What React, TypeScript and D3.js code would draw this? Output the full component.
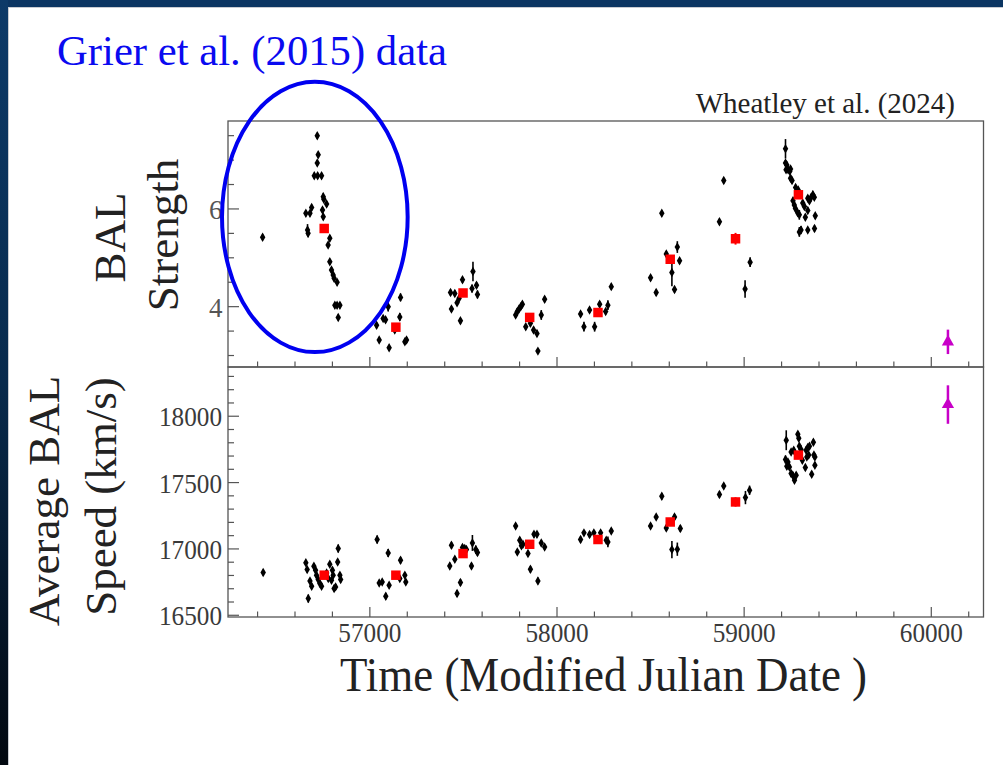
import React from "react";
import * as d3 from "d3";

// ---------- data ----------
const strengthMJD = [
  56427, 56719, 56724, 56719, 56703, 56721, 56742, 56751, 56754, 56769, 56658, 56680, 56689, 56747, 56751, 56667, 56670,
  56786, 56777, 56786, 56795, 56804, 56809, 56825, 56813, 56825, 56840, 56831,
  57036, 57071, 57084, 57098, 57050, 57103, 57133, 57160, 57164, 57187, 57196,
  57431, 57454, 57436, 57466, 57477, 57484, 57495, 57546, 57551, 57570, 57575,
  57779, 57788, 57797, 57806, 57815, 57833, 57858, 57875, 57893, 57898, 57916, 57934,
  58126, 58144, 58174, 58201, 58228, 58260, 58272, 58290,
  58500, 58530, 58560, 58584, 58614, 58628, 58643, 58655,
  58868, 58891, 59005, 59032,
  59221, 59221, 59228, 59224, 59235, 59248, 59244, 59248, 59256, 59275, 59289, 59261, 59268, 59274, 59286, 59295,
  59313, 59322, 59327, 59340, 59349, 59358, 59367, 59375, 59340, 59380, 59295, 59304, 59340, 59376,
];
const strengthValue = [
  5.42, 7.5, 7.11, 6.94, 6.68, 6.68, 6.68, 6.25, 6.2, 6.1, 5.91, 5.91, 6.03, 5.98, 5.84, 5.57, 5.5,
  5.4, 5.26, 4.92, 4.75, 4.65, 4.58, 4.5, 4.03, 4.03, 4.03, 3.78,
  3.62, 3.76, 3.73, 4.0, 3.32, 3.16, 3.52, 3.79, 4.19, 3.28, 3.32,
  4.29, 4.27, 3.95, 4.08, 4.17, 3.71, 4.55, 4.37, 4.72, 4.44, 4.25,
  3.83, 3.9, 3.95, 4.0, 4.05, 3.59, 3.66, 3.52, 3.45, 3.09, 3.83, 4.15,
  3.85, 3.59, 3.93, 3.59, 4.05, 3.9, 4.03, 4.41,
  4.59, 4.29, 5.91, 5.08, 4.7, 4.35, 5.22, 4.94,
  5.74, 6.58, 4.36, 4.91,
  7.23, 6.94, 6.9, 6.8, 6.8, 6.82, 6.77, 6.63, 6.58, 6.44, 6.39, 6.17, 6.08, 6.01, 5.92, 5.88,
  6.12, 6.05, 5.83, 6.22, 6.17, 6.24, 6.29, 6.24, 5.97, 5.86, 5.53, 5.57, 5.57, 5.6,
];
const strengthError = [
  0.06, 0.06, 0.06, 0.06, 0.06, 0.06, 0.06, 0.08, 0.06, 0.06, 0.06, 0.06, 0.06, 0.06, 0.06, 0.12, 0.08,
  0.06, 0.06, 0.06, 0.06, 0.06, 0.06, 0.06, 0.06, 0.06, 0.06, 0.06,
  0.06, 0.06, 0.06, 0.1, 0.06, 0.06, 0.06, 0.08, 0.08, 0.06, 0.06,
  0.06, 0.06, 0.06, 0.06, 0.06, 0.06, 0.06, 0.08, 0.2, 0.06, 0.08,
  0.06, 0.06, 0.06, 0.06, 0.06, 0.06, 0.06, 0.06, 0.06, 0.06, 0.1, 0.06,
  0.06, 0.1, 0.06, 0.1, 0.06, 0.06, 0.1, 0.06,
  0.06, 0.06, 0.06, 0.06, 0.28, 0.06, 0.12, 0.06,
  0.06, 0.06, 0.18, 0.1,
  0.2, 0.06, 0.06, 0.06, 0.06, 0.06, 0.06, 0.06, 0.06, 0.06, 0.06, 0.06, 0.06, 0.06, 0.06, 0.1,
  0.06, 0.06, 0.06, 0.06, 0.06, 0.06, 0.08, 0.06, 0.06, 0.06, 0.1, 0.08, 0.06, 0.06,
];

const speedMJD = [
  56430, 56658, 56665, 56671, 56680, 56689, 56701, 56710, 56715, 56724, 56733, 56742, 56769, 56778, 56786, 56795,
  56800, 56804, 56809, 56817, 56828, 56831, 56840, 56844,
  57039, 57050, 57066, 57085, 57098, 57103, 57164, 57160, 57187, 57192,
  57427, 57436, 57454, 57466, 57484, 57495, 57507, 57516, 57543, 57548, 57566, 57575,
  57779, 57801, 57788, 57810, 57818, 57845, 57858, 57877, 57893, 57898, 57916, 57934,
  58126, 58144, 58174, 58197, 58233, 58263, 58272, 58290,
  58500, 58530, 58560, 58584, 58614, 58628, 58643, 58659,
  58868, 58891, 59007, 59029,
  59225, 59221, 59234, 59228, 59242, 59251, 59260, 59269, 59251, 59265, 59287, 59292, 59295, 59304, 59311, 59278,
  59327, 59331, 59340, 59349, 59335, 59345, 59370, 59373, 59378, 59378, 59361,
];
const speedValue = [
  16822, 16895, 16845, 16626, 16759, 16719, 16870, 16839, 16802, 16769, 16739, 16719, 16819, 16777, 16885, 16764,
  16839, 16802, 16702, 16714, 16902, 17003, 16802, 16769,
  17071, 16744, 16751, 16644, 16970, 16726, 16915, 16777, 16802, 16751,
  16872, 17028, 16922, 16664, 16747, 17011, 17003, 16995, 16872, 17045, 16995, 16973,
  17173, 17066, 16977, 17023, 17035, 16965, 16847, 17111, 17111, 16759, 17045, 17015,
  17071, 17121, 17108, 17121, 17121, 17066, 17053, 17136,
  17173, 17241, 17397, 17158, 16995, 17241, 16998, 17154,
  17410, 17475, 17387, 17442,
  17819, 17674, 17656, 17623, 17618, 17568, 17555, 17518, 17730, 17744, 17864, 17834, 17774, 17749, 17668, 17555,
  17613, 17744, 17764, 17774, 17693, 17707, 17804, 17707, 17693, 17631, 17563,
];
const speedError = [
  22, 22, 22, 30, 22, 22, 22, 22, 22, 22, 22, 22, 22, 22, 22, 22,
  22, 22, 22, 22, 22, 30, 22, 22,
  30, 22, 22, 25, 30, 22, 25, 22, 22, 22,
  25, 25, 22, 25, 25, 22, 22, 22, 22, 60, 30, 25,
  22, 22, 22, 22, 22, 22, 25, 25, 25, 25, 22, 22,
  22, 22, 22, 22, 22, 22, 40, 22,
  22, 22, 25, 22, 65, 22, 50, 25,
  22, 22, 50, 35,
  75, 30, 22, 25, 22, 25, 22, 22, 22, 22, 25, 22, 22, 22, 22, 22,
  22, 22, 22, 22, 22, 22, 22, 22, 22, 22, 22,
];

const binMJD = [56756, 57139, 57498, 57854, 58219, 58605, 58954, 59290];
const binStrength = [5.6, 3.58, 4.28, 3.78, 3.88, 4.97, 5.39, 6.29];
const binStrengthError = [0.08, 0.06, 0.06, 0.06, 0.06, 0.08, 0.12, 0.08];
const binSpeed = [16802, 16802, 16965, 17035, 17071, 17203, 17354, 17707];
const binSpeedError = [15, 15, 15, 15, 15, 25, 35, 15];

const latestMJD = [60089];
const latestStrength = [3.28];
const latestStrengthError = [0.25];
const latestSpeed = [18088];
const latestSpeedError = [145];

const xMajorTicks = [57000, 58000, 59000, 60000];
const strengthMajorTicks = [4, 6];
const speedMajorTicks = [16500, 17000, 17500, 18000];

// annotation ellipse in data units (top panel)
const ellipseCenter = [56706, 5.836];
const ellipseRadius = [496, 2.766];

// ---------- layout ----------
const W = 1003;
const H = 765;
const L = 228;
const R = 983.5;
const T1 = 121;
const MID = 367;
const B2 = 617;

const x = d3.scaleLinear().domain([56242, 60279]).range([L, R]);
const yTop = d3.scaleLinear().domain([2.765, 7.8]).range([MID, T1]);
const yBot = d3.scaleLinear().domain([16487, 18371]).range([B2, MID]);

const xMinor = d3.range(56400, 60280, 200);
const topMinor = d3.range(3, 7.8, 0.5);
const botMinor = d3.range(16500, 18371, 100);

const diamond = d3.symbol(d3.symbolDiamond, 26)()!;
const square = d3.symbol(d3.symbolSquare, 90)()!;
const triangle = d3.symbol(d3.symbolTriangle, 65)()!;

const serif = "'Liberation Serif', 'DejaVu Serif', serif";
const frame = "#555";

function Points({ mjd, val, err, y }: { mjd: number[]; val: number[]; err: number[]; y: d3.ScaleLinear<number, number> }) {
  return (
    <g>
      {mjd.map((m, i) => (
        <g key={i}>
          <line x1={x(m)} x2={x(m)} y1={y(val[i] - err[i])} y2={y(val[i] + err[i])} stroke="#000" strokeWidth={1.6} />
          <path d={diamond} transform={`translate(${x(m)},${y(val[i])})`} fill="#000" />
        </g>
      ))}
    </g>
  );
}

function Bins({ val, err, y }: { val: number[]; err: number[]; y: d3.ScaleLinear<number, number> }) {
  return (
    <g>
      {binMJD.map((m, i) => (
        <g key={i}>
          <line x1={x(m)} x2={x(m)} y1={y(val[i] - err[i])} y2={y(val[i] + err[i])} stroke="#f00" strokeWidth={2} />
          <path d={square} transform={`translate(${x(m)},${y(val[i])})`} fill="#f00" />
        </g>
      ))}
    </g>
  );
}

function Latest({ val, err, y }: { val: number[]; err: number[]; y: d3.ScaleLinear<number, number> }) {
  return (
    <g>
      {latestMJD.map((m, i) => (
        <g key={i}>
          <line x1={x(m)} x2={x(m)} y1={y(val[i] - err[i])} y2={y(val[i] + err[i])} stroke="#c800c8" strokeWidth={2.5} />
          <path d={triangle} transform={`translate(${x(m)},${y(val[i])})`} fill="#c800c8" />
        </g>
      ))}
    </g>
  );
}

function XTicks({ bottom }: { bottom: number }) {
  return (
    <g stroke={frame} strokeWidth={1.2}>
      {xMinor.map((t) => {
        const major = xMajorTicks.includes(t);
        return <line key={t} x1={x(t)} x2={x(t)} y1={bottom} y2={bottom - (major ? 10 : 5.5)} />;
      })}
    </g>
  );
}

function YTicks({ y, minor, major }: { y: d3.ScaleLinear<number, number>; minor: number[]; major: number[] }) {
  return (
    <g stroke={frame} strokeWidth={1.2}>
      {minor.map((t) => {
        const isMajor = major.some((m) => Math.abs(m - t) < 1e-6);
        return <line key={t} x1={L} x2={L + (isMajor ? 11 : 6)} y1={y(t)} y2={y(t)} />;
      })}
    </g>
  );
}

export default function App() {
  return (
    <svg width={W} height={H} style={{ position: "absolute", left: 0, top: 0, display: "block" }} xmlns="http://www.w3.org/2000/svg">
      <defs>
        <linearGradient id="band" x1="0" y1="0" x2="0" y2="1">
          <stop offset="0" stopColor="#0d3a68" />
          <stop offset="0.5" stopColor="#082a4c" />
          <stop offset="1" stopColor="#020810" />
        </linearGradient>
      </defs>
      <rect x={0} y={0} width={W} height={H} fill="#fff" />
      <rect x={0} y={0} width={W} height={7} fill="#0b3562" />
      <rect x={0} y={0} width={8} height={H} fill="url(#band)" />
      <line x1={8.5} y1={7} x2={8.5} y2={H} stroke="#c8ccd2" strokeWidth={1} />
      <line x1={8} y1={7.5} x2={W} y2={7.5} stroke="#c8ccd2" strokeWidth={1} />

      {/* slide caption */}
      <text x={57} y={65} fontFamily={serif} fontSize={42.7} fill="#0a0af0">Grier et al. (2015) data</text>
      <text x={955} y={113} fontFamily={serif} fontSize={29} fill="#222" textAnchor="end">Wheatley et al. (2024)</text>

      {/* panel frames */}
      <rect x={L} y={T1} width={R - L} height={MID - T1} fill="none" stroke={frame} strokeWidth={1.3} />
      <rect x={L} y={MID} width={R - L} height={B2 - MID} fill="none" stroke={frame} strokeWidth={1.3} />

      <XTicks bottom={MID} />
      <XTicks bottom={B2} />
      <YTicks y={yTop} minor={topMinor} major={strengthMajorTicks} />
      <YTicks y={yBot} minor={botMinor} major={speedMajorTicks} />

      {/* tick labels */}
      <g fontFamily={serif} fontSize={27} fill="#555" textAnchor="end">
        {strengthMajorTicks.map((t) => (
          <text key={t} x={222.5} y={yTop(t) + 10}>{t}</text>
        ))}
      </g>
      <g fontFamily={serif} fontSize={27} fill="#3a3a3a" textAnchor="end">
        {speedMajorTicks.map((t) => (
          <text key={t} x={222} y={yBot(t) + 10} textLength={63} lengthAdjust="spacingAndGlyphs">{t}</text>
        ))}
      </g>
      <g fontFamily={serif} fontSize={27} fill="#3a3a3a" textAnchor="middle">
        {xMajorTicks.map((t) => (
          <text key={t} x={x(t)} y={642} textLength={63} lengthAdjust="spacingAndGlyphs">{t}</text>
        ))}
      </g>

      {/* axis titles */}
      <text x={340} y={691} fontFamily={serif} fontSize={48} fill="#222" textLength={527} lengthAdjust="spacingAndGlyphs">Time (Modified Julian Date )</text>
      <g fontFamily={serif} fontSize={45} fill="#222" textAnchor="middle">
        <text transform="translate(125,237.5) rotate(-90)">BAL</text>
        <text transform="translate(178,235) rotate(-90)">Strength</text>
        <text transform="translate(59,501) rotate(-90)">Average BAL</text>
        <text transform="translate(116,496.5) rotate(-90)">Speed (km/s)</text>
      </g>

      {/* data */}
      <Points mjd={strengthMJD} val={strengthValue} err={strengthError} y={yTop} />
      <Bins val={binStrength} err={binStrengthError} y={yTop} />
      <Latest val={latestStrength} err={latestStrengthError} y={yTop} />

      <Points mjd={speedMJD} val={speedValue} err={speedError} y={yBot} />
      <Bins val={binSpeed} err={binSpeedError} y={yBot} />
      <Latest val={latestSpeed} err={latestSpeedError} y={yBot} />

      {/* annotation */}
      <ellipse
        cx={x(ellipseCenter[0])}
        cy={yTop(ellipseCenter[1])}
        rx={x(ellipseCenter[0] + ellipseRadius[0]) - x(ellipseCenter[0])}
        ry={yTop(ellipseCenter[1] - ellipseRadius[1]) - yTop(ellipseCenter[1])}
        fill="none"
        stroke="#0000f0"
        strokeWidth={4}
      />
    </svg>
  );
}
